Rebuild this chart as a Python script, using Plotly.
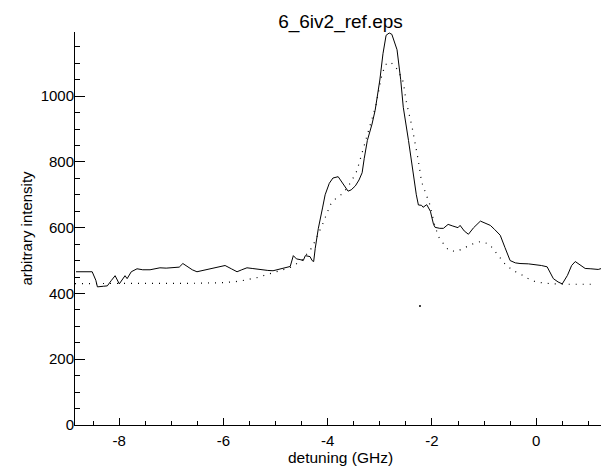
import plotly.graph_objects as go

# measured spectrum (solid line)
meas_x = [-8.83, -8.6, -8.52, -8.45, -8.42, -8.3, -8.23, -8.15, -8.08, -8.0, -7.95, -7.89, -7.85,
          -7.77, -7.66, -7.55, -7.41, -7.3, -7.22, -7.1, -6.97, -6.85, -6.78, -6.7, -6.6, -6.51,
          -6.4, -6.26, -6.1, -5.97, -5.85, -5.74, -5.65, -5.55, -5.45, -5.3, -5.15, -5.05, -4.9,
          -4.76, -4.72, -4.66, -4.6, -4.53, -4.47, -4.43, -4.34, -4.3, -4.27, -4.24, -4.18, -4.1,
          -4.05, -3.97, -3.9, -3.8, -3.7, -3.61, -3.55, -3.47, -3.4, -3.34, -3.3, -3.24, -3.15,
          -3.09, -3.0, -2.94, -2.88, -2.82, -2.77, -2.72, -2.67, -2.6, -2.55, -2.45, -2.36, -2.3,
          -2.26, -2.2, -2.17, -2.1, -2.03, -1.97, -1.94, -1.85, -1.78, -1.69, -1.6, -1.5, -1.46,
          -1.38, -1.3, -1.2, -1.07, -1.0, -0.88, -0.8, -0.69, -0.6, -0.5, -0.4, -0.31, -0.15,
          -0.02, 0.1, 0.21, 0.28, 0.33, 0.42, 0.5, 0.6, 0.68, 0.75, 0.82, 0.94, 1.05, 1.19, 1.32]
meas_y = [466, 467, 466, 440, 420, 422, 423, 440, 454, 429, 440, 454, 445,
          466, 475, 472, 472, 475, 478, 477, 478, 480, 491, 482, 472, 466,
          470, 475, 480, 485, 475, 466, 472, 478, 476, 472, 470, 469, 475,
          482, 482, 515, 505, 503, 500, 515, 512, 500, 497, 537, 598, 660,
          700, 735, 751, 755, 730, 711, 715, 727, 745, 767, 810, 865, 915,
          957, 1049, 1129, 1185, 1192, 1188, 1165, 1141, 1050, 966, 865, 761, 700,
          669, 668, 662, 670, 650, 610, 601, 598, 598, 610, 605, 600, 607,
          590, 580, 600, 620, 615, 607, 595, 577, 540, 500, 493, 491, 490,
          488, 485, 481, 460, 445, 435, 429, 455, 485, 497, 490, 476, 475, 473, 479]

# reference / fit curve (dotted line)
ref_x = [-8.85, -8.5, -8.0, -7.5, -7.0, -6.5, -6.0, -5.7, -5.36, -5.0, -4.7, -4.5, -4.3, -4.1,
         -3.95, -3.84, -3.7, -3.55, -3.44, -3.34, -3.24, -3.15, -3.07, -2.98, -2.9, -2.8, -2.7,
         -2.61, -2.55, -2.5, -2.38, -2.26, -2.2, -2.11, -2.05, -1.95, -1.88, -1.75, -1.67, -1.52,
         -1.36, -1.2, -1.06, -0.9, -0.75, -0.6, -0.45, -0.31, -0.15, -0.02, 0.13, 0.33, 0.6, 0.9, 1.1]
ref_y = [430, 430, 430, 430, 430, 431, 433, 437, 448, 465, 480, 500, 540, 610,
         670, 690, 705, 740, 773, 828, 880, 926, 975, 1052, 1095, 1104, 1090,
         1064, 1043, 988, 905, 803, 740, 700, 675, 610, 574, 545, 530, 528,
         540, 552, 558, 550, 520, 490, 470, 460, 445, 436, 432, 429, 428, 428, 428]

# isolated stray point
stray_x = [-2.23]
stray_y = [362]

x_ticks = [-8, -6, -4, -2, 0]
y_ticks = [0, 200, 400, 600, 800, 1000]

FONT = "Liberation Sans, Arial, Helvetica, sans-serif"

fig = go.Figure()
fig.add_trace(go.Scatter(x=ref_x, y=ref_y, mode="lines",
                         line=dict(color="black", width=1.2, dash="1px,6px"),
                         showlegend=False))
fig.add_trace(go.Scatter(x=meas_x, y=meas_y, mode="lines",
                         line=dict(color="black", width=1),
                         showlegend=False))
fig.add_trace(go.Scatter(x=stray_x, y=stray_y, mode="markers",
                         marker=dict(color="black", size=2),
                         showlegend=False))

# page body has an 8px margin, so the figure is sized to fit inside the window
fig.update_layout(
    width=601, height=460,
    margin=dict(l=67, r=3, t=24, b=43),
    paper_bgcolor="white", plot_bgcolor="white",
    font=dict(family=FONT, color="black", size=15),
    title=dict(text="6_6iv2_ref.eps", xref="paper", x=0.5, xanchor="center",
               y=0.97, yanchor="middle",
               font=dict(size=19, family=FONT, color="black")),
)
fig.update_xaxes(
    range=[-8.85, 1.34], tickvals=x_ticks, ticktext=[str(v) for v in x_ticks],
    showgrid=False, zeroline=False, showline=True, linecolor="black", linewidth=1,
    ticks="inside", ticklen=7, tickcolor="black", tickwidth=1,
    minor=dict(dtick=0.5, tick0=0, ticks="inside", ticklen=4, tickcolor="black", showgrid=False),
    tickfont=dict(size=15), ticklabelstandoff=2,
    title=dict(text="detuning (GHz)", font=dict(size=15.5), standoff=0),
)
fig.update_yaxes(
    range=[0, 1195], tickvals=y_ticks, ticktext=[str(v) for v in y_ticks],
    showgrid=False, zeroline=False, showline=True, linecolor="black", linewidth=1,
    ticks="inside", ticklen=10, tickcolor="black", tickwidth=1,
    minor=dict(dtick=50, tick0=0, ticks="inside", ticklen=5, tickcolor="black", showgrid=False),
    tickfont=dict(size=15), ticklabelstandoff=-3,
    title=dict(text="arbitrary intensity", font=dict(size=15), standoff=4),
)

fig.write_html("out.html")
